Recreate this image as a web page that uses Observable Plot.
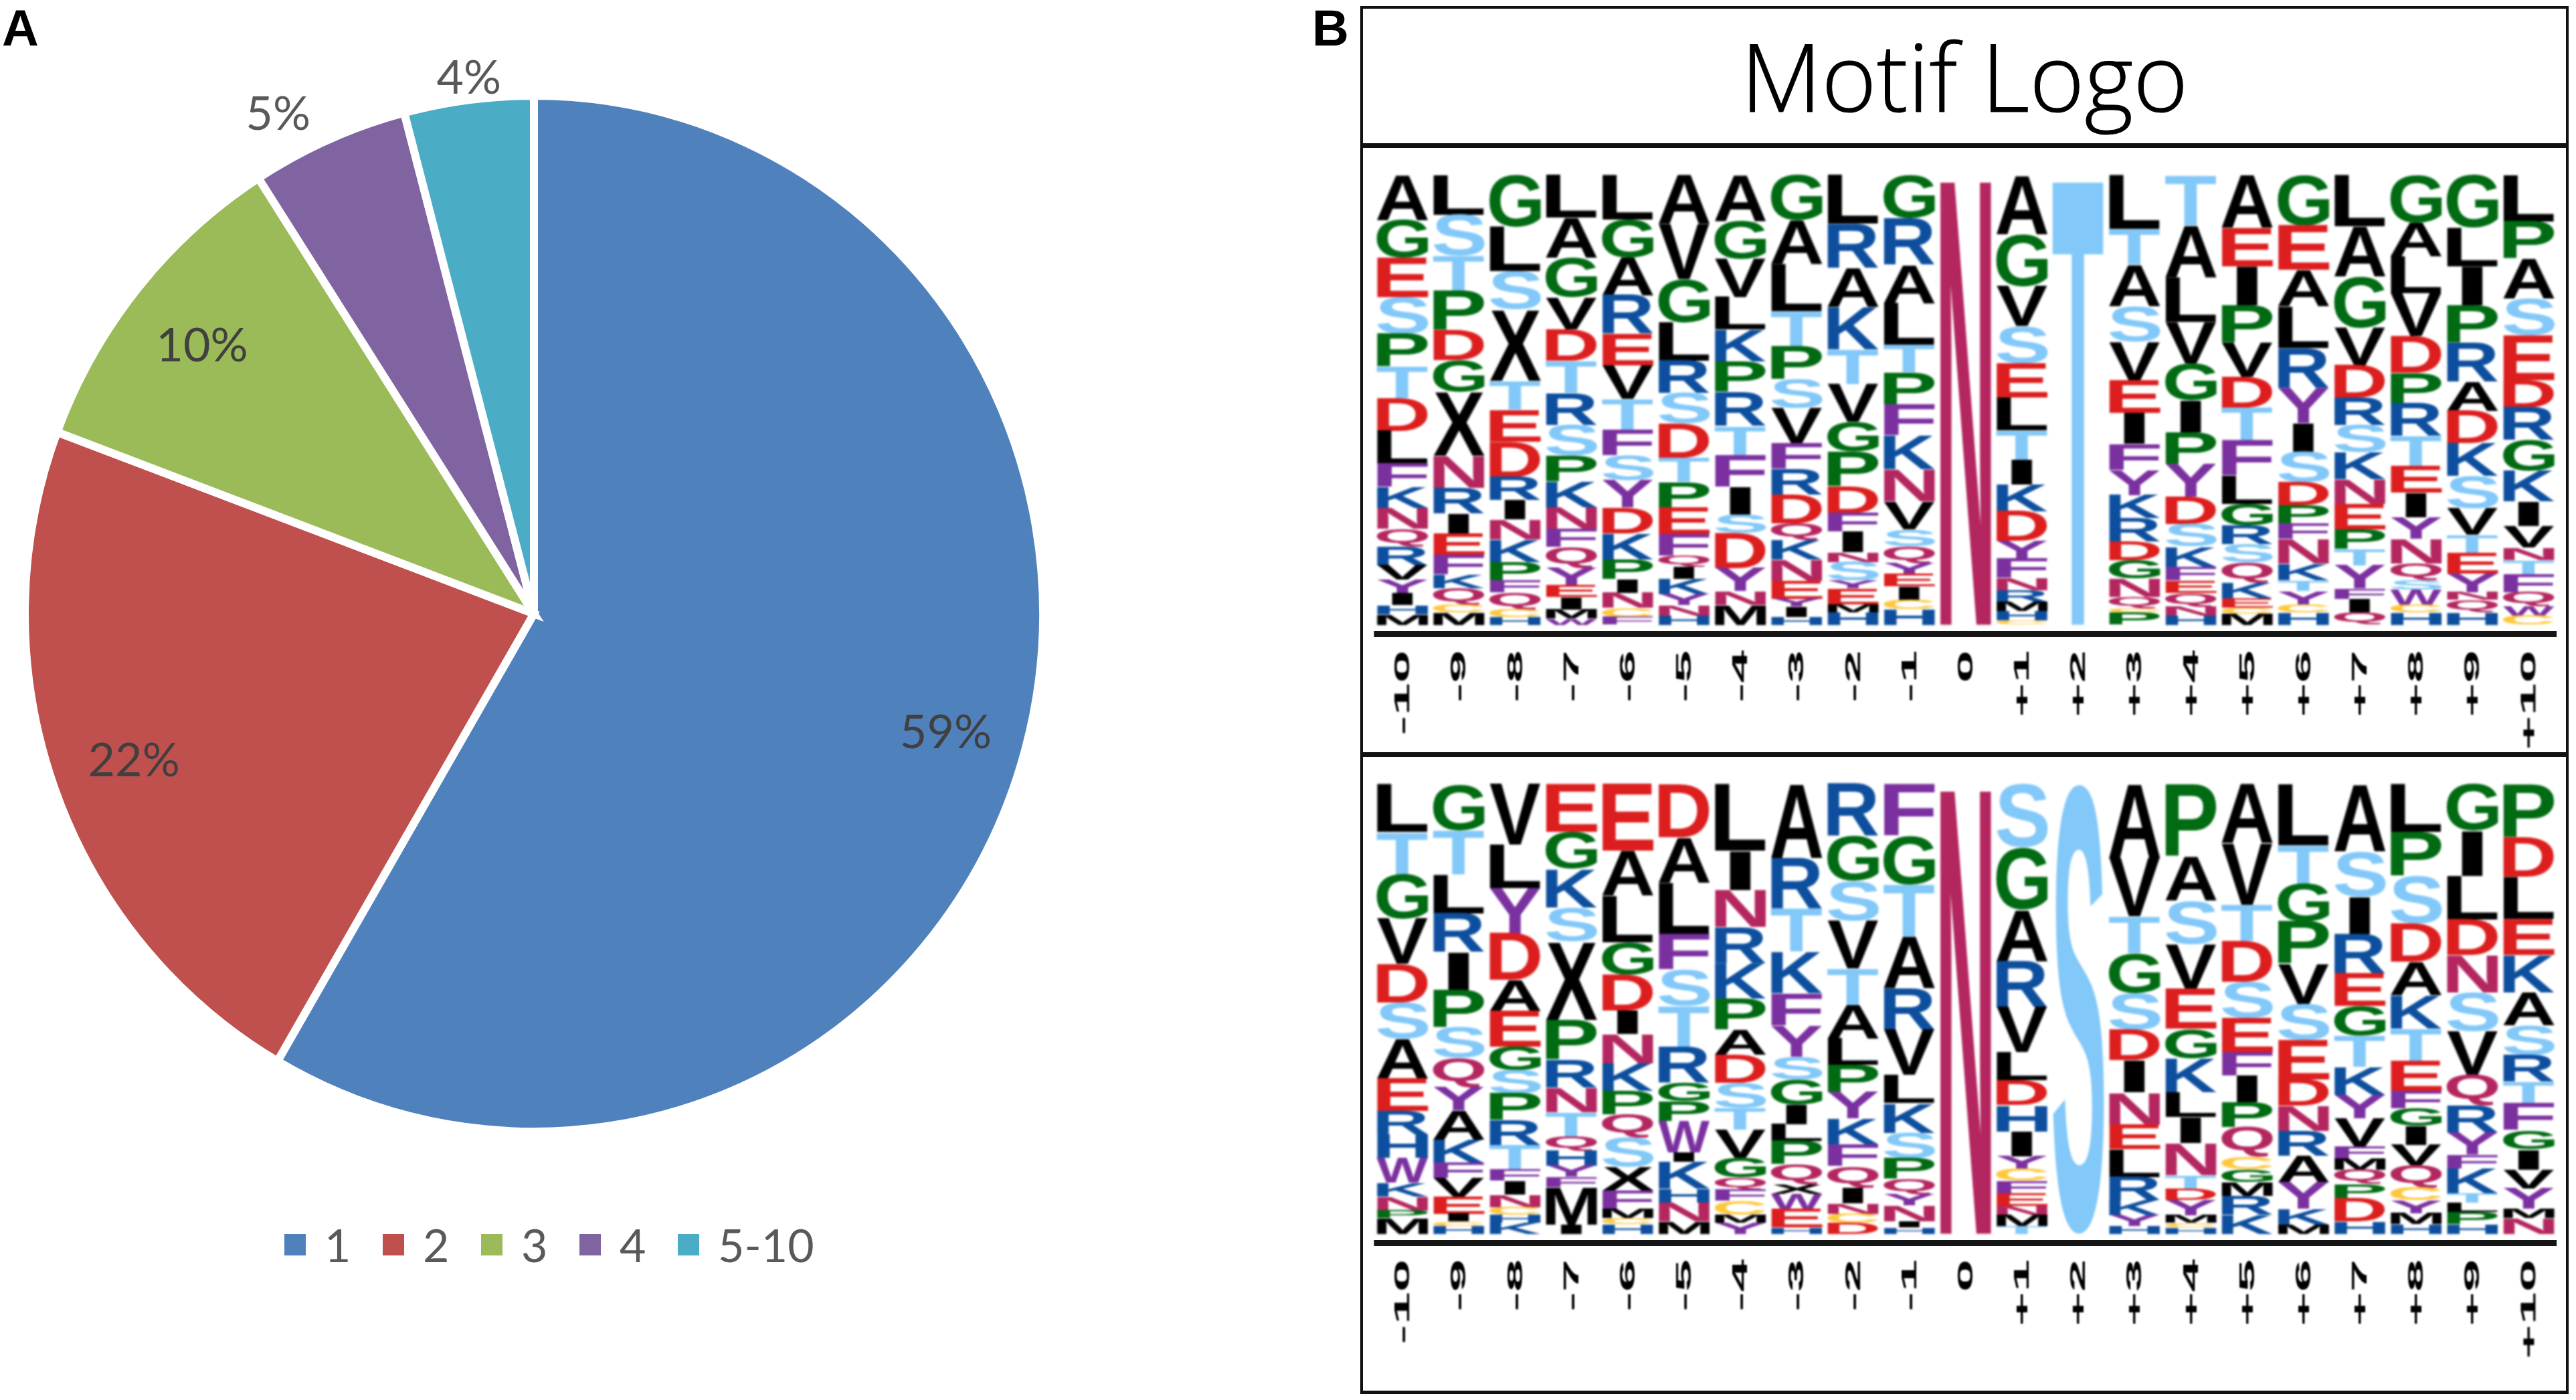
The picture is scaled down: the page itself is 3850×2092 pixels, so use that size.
<!DOCTYPE html>
<html>
<head>
<meta charset="utf-8">
<script src="https://cdn.jsdelivr.net/npm/d3@7"></script>
<script src="https://cdn.jsdelivr.net/npm/@observablehq/plot@0.6"></script>
<style>
  html, body { margin: 0; background: #fff; }
  #page { position: relative; width: 3850px; height: 2092px; overflow: hidden; background: #fff; }
  #page svg { position: absolute; background: transparent; overflow: visible; }
  .panel-letter { position: absolute; font: bold 76px/1 "Liberation Sans", sans-serif; color: #000; }
  .box { position: absolute; box-sizing: border-box; border: 4px solid #111; background: #fff; }
  #title { font: 300 140px/1 "Open Sans", sans-serif; -webkit-text-stroke: 1px #000; color: #000; text-align: center; position: absolute; left: 2033px; width: 1806px; top: 43px; white-space: nowrap; }
  #legend { position: absolute; left: 425px; top: 1820px; height: 80px; display: flex; align-items: center; font: 68px/1 Lato, sans-serif; color: #595959; white-space: nowrap; }
  #legend .item { display: flex; flex: none; align-items: center; width: 147px; }
  #legend .swatch { flex: none; width: 32px; height: 32px; margin-right: 28px; }
</style>
</head>
<body>
<div id="page"></div>
<script>
// ---------- Panel A: pie chart ----------
const pieCategories = ["1", "2", "3", "4", "5-10"];
const pieValues = [58.4, 22.3, 10.2, 5.0, 4.1];
const pieLabels = ["59%", "22%", "10%", "5%", "4%"];
const pieColors = ["#4F81BD", "#C0504D", "#9BBB59", "#8064A2", "#4BACC6"];
const pieLabelColors = ["#404040", "#404040", "#404040", "#595959", "#595959"];
const pieLabelRadius = [0.847, 0.843, 0.839, 1.096, 1.05];
const pieLabelNudge = [0.8, -0.3, -0.5, -3.8, 0.3];

// ---------- Panel B: motif logos (letters top to bottom, heights) ----------
const positions = ["-10","-9","-8","-7","-6","-5","-4","-3","-2","-1","0","+1","+2","+3","+4","+5","+6","+7","+8","+9","+10"];

const logo1Letters = [
  "AGESPTDLFKNQRVYIHM","LSTPDGXNRIEFKQCM","GLSXTEDRINKPFQCH","LAGVDTRSPKNFQYEIMW","LGAREVTFSYDKPINCF",
  "AVGLRSDTPEFQIKYNH","AGVLKPRTFISDYNM","GALTPSVFRDQKNEYIH","LRAKTVGPDFINSYEMH","GRALTPFKNVSQYEICH",
  "N","AGVSELTIKDYFNRMHC","T","LTASVEIFYKRDGNQCP","TALVGIPYDSKFEQNH",
  "AEIPVDTFLGRSQKECM","GEALRYISDPFNKTYCH","LAGVDRSKNEPTYFIQ","GALVDPRTEIYNQSWCH","GLIPRADKSVTEYNQH","LPASEDRGKIVNTFQWC"
];
const logo1Heights = [
  [150,126,132,122,110,106,108,110,77,70,70,60,62,48,45,40,30,35],
  [130,135,115,130,97,105,210,105,85,65,70,65,45,55,25,40],
  [170,145,125,235,95,105,115,75,65,65,75,60,40,55,25,25],
  [140,130,130,105,105,105,105,100,85,85,70,60,70,55,40,40,30,20],
  [145,125,125,125,105,110,100,85,80,90,85,85,65,45,50,30,25],
  [160,180,140,125,105,100,110,80,85,85,70,35,40,50,35,35,30],
  [150,125,125,105,105,100,110,95,105,90,60,115,75,45,65],
  [150,145,155,115,110,95,115,85,85,95,55,65,70,60,25,35,25],
  [155,140,125,135,110,120,95,110,85,60,65,30,60,25,50,25,40],
  [140,150,125,135,90,105,100,110,105,90,55,55,35,40,45,30,50],
  [1505],
  [190,168,128,120,110,105,95,80,85,95,55,65,40,35,30,30,15],
  [1505],
  [175,115,135,115,125,105,100,85,80,75,75,60,60,60,35,15,40],
  [165,170,145,135,120,105,105,105,90,75,65,45,40,45,30,30],
  [170,125,125,120,110,100,105,115,90,70,60,60,65,50,30,20,35],
  [165,145,120,135,130,115,95,100,75,60,50,80,55,35,45,25,40],
  [170,165,170,125,106,90,90,90,80,85,65,55,75,35,45,40],
  [155,110,120,140,120,100,105,100,85,80,70,80,55,30,50,25,40],
  [170,125,125,120,125,95,105,105,105,85,60,65,60,25,40,40],
  [150,120,130,120,145,90,105,100,100,80,70,40,45,60,45,30,30]
];

const logo2Letters = [
  "LTGVDSAERHWKNPM","GTLRIPSQYAKFVEICH","VLYDAEGSPRTFINCHK","EGKSXPRNTQHYFMI","EALGDINKPQSXFMCH",
  "DALFSTRGPWIKHNM","LINRKPADSTVGQFCMY","ARTKFYSGILPQXWEH","RGSVTALPYKFQINCD","FGTARVLKSPQYNIH",
  "N","SGARVLDHIYCFENMT","S","AVTGSDINELRKYH","PASVEGKLINTDYMCH",
  "AVTDSEFIPQCGMRK","LTGPVSEDNRAYKM","ASIREGTKYVFMQPDH","LPSDAKTEFGIVQCYMH","GILDNSVQRYFKTLPH","PDLEKASRTFGIVYMN"
];
const logo2Heights = [
  [155,135,145,145,125,115,130,105,75,75,80,45,45,25,50],
  [150,145,125,125,125,120,100,95,75,95,75,50,60,55,25,15,25],
  [195,140,145,150,100,115,75,75,85,80,80,35,45,40,25,25,35],
  [155,120,125,110,255,130,90,80,80,45,50,35,35,120,30],
  [215,145,150,105,115,75,95,90,75,75,95,75,60,30,20,30],
  [170,145,165,115,115,130,115,60,65,100,30,85,45,60,40],
  [215,125,120,115,115,100,80,90,80,70,90,65,40,35,45,25,35],
  [240,165,140,135,105,100,75,80,65,55,75,65,30,50,60,20],
  [170,145,130,155,120,110,85,90,85,85,70,70,50,35,30,35],
  [165,155,165,165,130,145,90,95,80,65,50,35,50,20,20],
  [1505],
  [205,200,165,150,145,90,80,85,80,40,40,40,40,30,35,25],
  [1505],
  [240,190,120,130,120,100,105,105,80,90,75,50,35,25],
  [235,145,140,145,130,95,110,80,85,105,45,35,50,25,15,20],
  [190,195,115,130,115,110,75,85,80,95,40,40,45,60,60],
  [195,125,120,135,130,115,125,85,80,80,85,85,50,30],
  [215,145,120,125,105,95,100,90,75,90,40,35,45,45,75,40],
  [150,140,150,120,105,105,100,95,55,55,60,65,70,40,40,35,30],
  [150,145,140,115,120,125,140,100,85,70,45,80,30,30,40,30],
  [170,125,135,115,120,105,95,85,70,85,60,65,60,65,30,50]
];

const residues = ["A","V","L","I","M","X","G","P","S","T","D","E","K","R","H","N","Q","F","Y","W","C"];
const residueColors = ["#000","#000","#000","#000","#000","#000","#006B12","#006B12","#82C8F8","#82C8F8",
  "#DC1E1E","#DC1E1E","#0D4F9E","#0D4F9E","#0D4F9E","#B4265F","#B4265F","#7B30A0","#7B30A0","#7B30A0","#FFC83C"];

// ---------- helpers ----------
const page = document.getElementById("page");
function place(svg, left, top) {
  svg.style.left = left + "px";
  svg.style.top = top + "px";
  page.appendChild(svg);
}
function addDiv(cls, css, text) {
  const d = document.createElement("div");
  if (cls) d.className = cls;
  Object.assign(d.style, css);
  if (text) d.textContent = text;
  page.appendChild(d);
  return d;
}

// ---------- Pie ----------
const pieW = 1640, pieH = 1760, pieCx = 798, pieCy = 917, pieRx = 761, pieRy = 774;
const angleOf = d3.scaleLinear().domain([0, d3.sum(pieValues)]).range([0, 2 * Math.PI]);
let cumulative = 0;
const slices = pieCategories.map((category, i) => {
  const start = angleOf(cumulative);
  cumulative += pieValues[i];
  const end = angleOf(cumulative);
  const mid = (start + end) / 2 + pieLabelNudge[i] * Math.PI / 180;
  return {
    category, start, end, cx: pieCx, cy: pieCy,
    label: pieLabels[i], labelFill: pieLabelColors[i],
    labelX: pieCx + (pieRx - 6) * pieLabelRadius[i] * Math.sin(mid),
    labelY: pieCy - (pieRy - 6) * pieLabelRadius[i] * Math.cos(mid)
  };
});
function renderSlices(index, scales, values) {
  const arc = d3.arc().innerRadius(0).outerRadius(pieRx);
  const g = d3.create("svg:g");
  for (const i of index) {
    g.append("path")
      .attr("transform", `translate(${values.x[i]},${values.y[i]}) scale(1,${pieRy / pieRx})`)
      .attr("d", arc({startAngle: slices[i].start, endAngle: slices[i].end}))
      .attr("fill", values.fill[i])
      .attr("stroke", "#fff")
      .attr("stroke-width", 12)
      .attr("stroke-linejoin", "miter")
      .attr("vector-effect", "non-scaling-stroke");
  }
  return g.node();
}
const piePlot = Plot.plot({
  width: pieW, height: pieH, margin: 0,
  x: {domain: [0, pieW], range: [0, pieW], axis: null},
  y: {domain: [0, pieH], range: [0, pieH], axis: null},
  color: {domain: pieCategories, range: pieColors},
  marks: [
    Plot.dot(slices, {x: "cx", y: "cy", fill: "category", r: 1, render: renderSlices}),
    Plot.text(slices, {x: "labelX", y: "labelY", text: "label", fill: "labelFill",
      fontFamily: "Lato", fontSize: 70})
  ]
});
place(piePlot, 0, 0);

const legend = addDiv("", {});
legend.id = "legend";
pieCategories.forEach((c, i) => {
  const item = document.createElement("div");
  item.className = "item";
  const sw = document.createElement("div");
  sw.className = "swatch";
  sw.style.background = pieColors[i];
  const t = document.createElement("span");
  t.textContent = c;
  item.append(sw, t);
  legend.appendChild(item);
});

// ---------- Panel letters & frames ----------
addDiv("panel-letter", {left: "3px", top: "4px"}, "A");
addDiv("panel-letter", {left: "1961px", top: "4px"}, "B");
addDiv("box", {left: "2033px", top: "9px", width: "1806px", height: "212px", borderBottomWidth: "7px"});
const titleEl = addDiv("", {}, "Motif Logo");
titleEl.id = "title";
addDiv("box", {left: "2033px", top: "221px", width: "1806px", height: "910px", borderTop: "none", borderBottomWidth: "7px"});
addDiv("box", {left: "2033px", top: "1131px", width: "1806px", height: "952px", borderTop: "none", borderBottomWidth: "5px"});

// ---------- Logos ----------
const measure = document.createElement("canvas").getContext("2d");
measure.font = "bold 100px 'Liberation Sans'";
const inkCache = new Map();
function inkOf(letter) {
  if (!inkCache.has(letter)) {
    const m = measure.measureText(letter);
    inkCache.set(letter, {
      left: m.actualBoundingBoxLeft, right: m.actualBoundingBoxRight,
      ascent: m.actualBoundingBoxAscent, descent: m.actualBoundingBoxDescent
    });
  }
  return inkCache.get(letter);
}
function logoRows(letters, heights) {
  return letters.flatMap((col, c) => {
    const total = d3.sum(heights[c]);
    let top = 100;
    return Array.from(col, (letter, k) => {
      const share = heights[c][k] / total * 100;
      const row = {position: positions[c], letter, y1: top, y0: top - share};
      top -= share;
      return row;
    });
  });
}
function fitLetters(rows) {
  return function (index, scales, values, dims, ctx, next) {
    const g = next(index, scales, values, dims, ctx);
    const glyphW = 77;
    d3.select(g).selectAll("text").each(function (i) {
      const r = rows[i];
      const ink = inkOf(r.letter);
      const w = r.letter === "I" ? glyphW * 0.44 : glyphW;
      const top = scales.y(r.y1), bottom = scales.y(r.y0);
      const sx = w / (ink.left + ink.right);
      const sy = (bottom - top) / (ink.ascent + ink.descent);
      const left = scales.x(r.position) - w / 2;
      d3.select(this)
        .attr("x", null).attr("y", null).attr("dy", null).attr("dx", null)
        .attr("transform", `translate(${left + ink.left * sx},${bottom - ink.descent * sy}) scale(${sx},${sy})`);
    });
    return g;
  };
}
function logoPlot(letters, heights) {
  const rows = logoRows(letters, heights);
  const svg = Plot.plot({
    width: 1798, height: 902,
    marginLeft: 16.5, marginRight: 14, marginTop: 40, marginBottom: 190,
    x: {type: "band", domain: positions, padding: 0, round: false, label: null},
    y: {domain: [0, 100], axis: null},
    color: {domain: residues, range: residueColors},
    marks: [
      Plot.text(rows, {
        x: "position", y: "y0", text: "letter", fill: "letter",
        fontFamily: "Liberation Sans", fontWeight: "bold", fontSize: 100, textAnchor: "start",
        imageFilter: "blur(1.5px)", render: fitLetters(rows)
      }),
      Plot.ruleY([-2.1], {stroke: "#151515", strokeWidth: 9}),
      Plot.axisX({
        anchor: "bottom", label: null, tickSize: 0, tickPadding: 38, tickRotate: -90,
        fontSize: 32, fontFamily: "Liberation Sans", fontWeight: "bold", fill: "#000"
      })
    ]
  });
  d3.select(svg).selectAll('[aria-label="x-axis tick label"] text').each(function () {
    const t = d3.select(this);
    t.attr("transform", (t.attr("transform") || "") + " scale(2.75,1)");
  });
  d3.select(svg).selectAll('[aria-label="x-axis tick label"]').style("filter", "blur(1px)");
  return svg;
}
place(logoPlot(logo1Letters, logo1Heights), 2037, 221);
place(logoPlot(logo2Letters, logo2Heights), 2037, 1131);
</script>
</body>
</html>
